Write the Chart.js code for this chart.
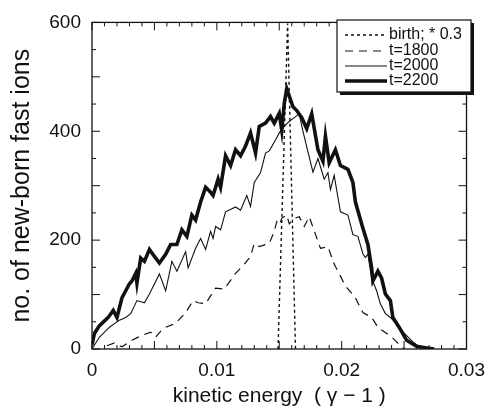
<!DOCTYPE html>
<html>
<head>
<meta charset="utf-8">
<script src="https://cdn.jsdelivr.net/npm/chart.js@4.4.0/dist/chart.umd.min.js"></script>
<style>
  html, body { margin: 0; padding: 0; background: #fff; }
  #wrap { width: 495px; height: 411px; }
</style>
</head>
<body>
<div id="wrap"><canvas id="grafico" width="495" height="411"></canvas></div>
<script>
// datos
const birthE = [0.0149, 0.01567, 0.0163];
const birthN = [0, 598, 0];

const t1800E = [0.0012, 0.0018, 0.0024, 0.0032, 0.0039, 0.0047, 0.0051, 0.0057, 0.0067, 0.0075, 0.0081, 0.0085, 0.0091, 0.0099, 0.0106, 0.0115, 0.0122, 0.0127, 0.0130, 0.0134, 0.0142, 0.0146, 0.0148, 0.0150, 0.0152, 0.0156, 0.0158, 0.0162, 0.0166, 0.0170, 0.0174, 0.0183, 0.0189, 0.0194, 0.0203, 0.0211, 0.0217, 0.0224, 0.0229, 0.0240, 0.0244, 0.0250];
const t1800N = [6, 11, 4, 16, 24, 31, 22, 38, 47, 67, 89, 85, 83, 112, 110, 139, 156, 170, 194, 188, 194, 216, 234, 228, 240, 246, 230, 240, 243, 225, 243, 185, 188, 156, 116, 94, 67, 58, 40, 22, 13, 0];

const t2000E = [0, 0.0006, 0.0014, 0.0022, 0.0027, 0.0031, 0.0036, 0.0042, 0.0046, 0.0054, 0.0059, 0.0064, 0.0068, 0.0075, 0.0077, 0.0083, 0.0087, 0.0091, 0.0095, 0.0097, 0.0099, 0.0103, 0.0107, 0.0115, 0.0119, 0.0124, 0.0127, 0.0130, 0.0135, 0.0139, 0.0142, 0.0147, 0.0150, 0.0154, 0.0158, 0.0162, 0.0166, 0.0169, 0.0173, 0.0177, 0.0181, 0.0186, 0.0189, 0.0191, 0.0194, 0.0199, 0.0205, 0.0209, 0.0213, 0.0217, 0.0219, 0.0221, 0.0224, 0.0228, 0.0231, 0.0235, 0.0240, 0.0246, 0.0250, 0.0257, 0.0262, 0.0270];
const t2000N = [0, 22, 40, 53, 58, 65, 89, 85, 101, 138, 107, 161, 143, 179, 149, 185, 203, 183, 216, 203, 225, 219, 252, 261, 255, 282, 262, 306, 324, 360, 364, 384, 397, 409, 418, 425, 432, 400, 362, 325, 350, 312, 324, 293, 319, 252, 246, 210, 207, 175, 168, 174, 130, 107, 83, 65, 56, 40, 29, 13, 4, 0];

const t2200E = [0, 0.0002, 0.0006, 0.0013, 0.0017, 0.0020, 0.0024, 0.0027, 0.0030, 0.0032, 0.0035, 0.0036, 0.0039, 0.0042, 0.0046, 0.0050, 0.0054, 0.0059, 0.0063, 0.0068, 0.0072, 0.0076, 0.0080, 0.0083, 0.0087, 0.0091, 0.0095, 0.0097, 0.0101, 0.0103, 0.0107, 0.0111, 0.0115, 0.0119, 0.0123, 0.0127, 0.0131, 0.0134, 0.0139, 0.0143, 0.0146, 0.0150, 0.0152, 0.0154, 0.0156, 0.0161, 0.0164, 0.0168, 0.0172, 0.0176, 0.0181, 0.0185, 0.0187, 0.0190, 0.0195, 0.0199, 0.0205, 0.0209, 0.0211, 0.0217, 0.0221, 0.0224, 0.0225, 0.0229, 0.0232, 0.0235, 0.0239, 0.0241, 0.0246, 0.0252, 0.0260, 0.0268, 0.0274];
const t2200N = [8, 29, 43, 58, 71, 58, 94, 107, 120, 125, 139, 121, 167, 161, 183, 170, 158, 174, 192, 192, 219, 207, 246, 237, 270, 297, 288, 282, 312, 297, 355, 337, 366, 355, 373, 397, 360, 409, 415, 427, 415, 433, 402, 451, 478, 445, 438, 425, 405, 432, 366, 345, 391, 342, 366, 337, 330, 306, 270, 222, 192, 149, 125, 143, 130, 101, 89, 58, 40, 16, 5, 2, 0];

const xTickLabels = ['0', '0.01', '0.02', '0.03'];
const yTickLabels = ['0', '200', '400', '600'];
const serieNames = ['birth; * 0.3', 't=1800', 't=2000', 't=2200'];

const fuente = '"Liberation Sans", Arial, Helvetica, sans-serif';

function puntos(xs, ys) {
    return xs.map((v, i) => ({ x: v, y: ys[i] }));
}

// estilos de linea de cada serie
const estilos = [
    { width: 1.4, dash: [3, 3] },
    { width: 1.2, dash: [8, 6] },
    { width: 1.1, dash: [] },
    { width: 3.6, dash: [] }
];

// marco, ticks hacia adentro y leyenda con sombra
const marco = {
    id: 'marco',
    afterDraw(chart) {
        const { ctx, chartArea: a, scales: { x, y } } = chart;
        ctx.save();
        ctx.strokeStyle = '#111';
        ctx.setLineDash([]);
        ctx.lineWidth = 1.3;
        ctx.strokeRect(a.left, a.top, a.right - a.left, a.bottom - a.top);

        ctx.lineWidth = 1;
        ctx.beginPath();
        for (let i = 0; i <= 30; i++) {
            const px = x.getPixelForValue(i * 0.001);
            const len = i % 5 === 0 ? 8 : 4;
            ctx.moveTo(px, a.bottom); ctx.lineTo(px, a.bottom - len);
            ctx.moveTo(px, a.top); ctx.lineTo(px, a.top + len);
        }
        for (let v = 0; v <= 600; v += 50) {
            const py = y.getPixelForValue(v);
            const len = v % 100 === 0 ? 8 : 4;
            ctx.moveTo(a.left, py); ctx.lineTo(a.left + len, py);
            ctx.moveTo(a.right, py); ctx.lineTo(a.right - len, py);
        }
        ctx.stroke();

        // leyenda
        const bx = 337, by = 20, bw = 134, bh = 72;
        ctx.fillStyle = '#111';
        ctx.fillRect(bx + 3, by + 3, bw, bh);
        ctx.fillStyle = '#fff';
        ctx.fillRect(bx, by, bw, bh);
        ctx.lineWidth = 1.2;
        ctx.strokeRect(bx, by, bw, bh);

        const filas = [35, 51, 66, 81];
        ctx.font = '16px ' + fuente;
        ctx.textBaseline = 'middle';
        ctx.textAlign = 'left';
        filas.forEach((fy, i) => {
            ctx.beginPath();
            ctx.lineWidth = estilos[i].width;
            ctx.setLineDash(estilos[i].dash);
            ctx.moveTo(345, fy);
            ctx.lineTo(387, fy);
            ctx.stroke();
            ctx.setLineDash([]);
            ctx.fillStyle = '#111';
            ctx.fillText(serieNames[i], 389, fy);
        });
        ctx.restore();
    }
};

const series = [
    puntos(birthE, birthN),
    puntos(t1800E, t1800N),
    puntos(t2000E, t2000N),
    puntos(t2200E, t2200N)
];

const ctx = document.getElementById('grafico').getContext('2d');
new Chart(ctx, {
    type: 'line',
    data: {
        datasets: series.map((d, i) => ({
            label: serieNames[i],
            data: d,
            borderColor: '#111',
            borderWidth: estilos[i].width,
            borderDash: estilos[i].dash,
            pointRadius: 0,
            tension: 0,
            fill: false
        }))
    },
    options: {
        responsive: false,
        animation: false,
        layout: { padding: { left: 0, top: 18, right: 22, bottom: 0 } },
        plugins: {
            legend: { display: false },
            tooltip: { enabled: false }
        },
        scales: {
            x: {
                type: 'linear',
                min: 0,
                max: 0.03,
                afterFit: (s) => { s.height = 62; },
                grid: { display: false, drawTicks: false },
                border: { display: false },
                ticks: {
                    stepSize: 0.01,
                    padding: 10,
                    color: '#111',
                    font: { family: fuente, size: 19 },
                    maxRotation: 0,
                    callback: (v, i) => xTickLabels[i]
                },
                title: {
                    display: true,
                    text: 'kinetic energy  ( γ − 1 )',
                    color: '#111',
                    font: { family: fuente, size: 21 },
                    padding: { top: 0, bottom: 2 }
                }
            },
            y: {
                min: 0,
                max: 600,
                afterFit: (s) => { s.width = 92; },
                grid: { display: false, drawTicks: false },
                border: { display: false },
                ticks: {
                    stepSize: 200,
                    padding: 11,
                    color: '#111',
                    font: { family: fuente, size: 19 },
                    callback: (v, i) => yTickLabels[i]
                },
                title: {
                    display: true,
                    text: 'no. of new-born fast ions',
                    color: '#111',
                    font: { family: fuente, size: 25 },
                    padding: { top: 7, bottom: 0 }
                }
            }
        }
    },
    plugins: [marco]
});
</script>
</body>
</html>
